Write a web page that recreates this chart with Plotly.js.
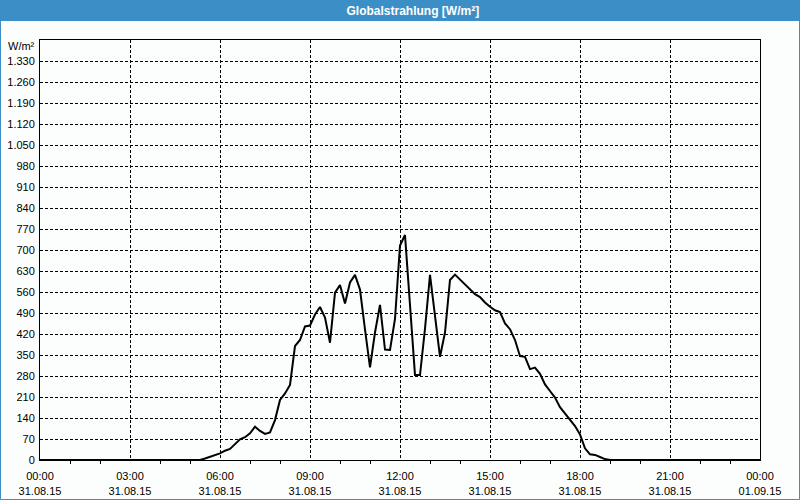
<!DOCTYPE html>
<html>
<head>
<meta charset="utf-8">
<script src="https://cdn.plot.ly/plotly-3.0.1.min.js"></script>
<style>html,body{margin:0;padding:0;background:#fcfefd;}#chart{width:800px;height:500px;}</style>
</head>
<body>
<div id="chart"></div>
<script>
var chartTitle = 'Globalstrahlung [W/m²]';
var unitLabel = 'W/m²';
var times = [
  '2015-08-31 00:00','2015-08-31 05:20',
  '2015-08-31 05:30','2015-08-31 05:40','2015-08-31 05:50',
  '2015-08-31 06:00','2015-08-31 06:10','2015-08-31 06:20','2015-08-31 06:30','2015-08-31 06:40','2015-08-31 06:50',
  '2015-08-31 07:00','2015-08-31 07:10','2015-08-31 07:20','2015-08-31 07:30','2015-08-31 07:40','2015-08-31 07:50',
  '2015-08-31 08:00','2015-08-31 08:10','2015-08-31 08:20','2015-08-31 08:30','2015-08-31 08:40','2015-08-31 08:50',
  '2015-08-31 09:00','2015-08-31 09:10','2015-08-31 09:20','2015-08-31 09:30','2015-08-31 09:40','2015-08-31 09:50',
  '2015-08-31 10:00','2015-08-31 10:10','2015-08-31 10:20','2015-08-31 10:30','2015-08-31 10:40','2015-08-31 10:50',
  '2015-08-31 11:00','2015-08-31 11:10','2015-08-31 11:20','2015-08-31 11:30','2015-08-31 11:40','2015-08-31 11:50',
  '2015-08-31 12:00','2015-08-31 12:10','2015-08-31 12:20','2015-08-31 12:30','2015-08-31 12:40','2015-08-31 12:50',
  '2015-08-31 13:00','2015-08-31 13:10','2015-08-31 13:20','2015-08-31 13:30','2015-08-31 13:40','2015-08-31 13:50',
  '2015-08-31 14:00','2015-08-31 14:10','2015-08-31 14:20','2015-08-31 14:30','2015-08-31 14:40','2015-08-31 14:50',
  '2015-08-31 15:00','2015-08-31 15:10','2015-08-31 15:20','2015-08-31 15:30','2015-08-31 15:40','2015-08-31 15:50',
  '2015-08-31 16:00','2015-08-31 16:10','2015-08-31 16:20','2015-08-31 16:30','2015-08-31 16:40','2015-08-31 16:50',
  '2015-08-31 17:00','2015-08-31 17:10','2015-08-31 17:20','2015-08-31 17:30','2015-08-31 17:40','2015-08-31 17:50',
  '2015-08-31 18:00','2015-08-31 18:10','2015-08-31 18:20','2015-08-31 18:30','2015-08-31 18:40','2015-08-31 18:50',
  '2015-08-31 19:00','2015-09-01 00:00'
];
var radiation = [
  0, 0,
  5, 11, 17,
  22, 31, 37, 53, 69, 76,
  89, 111, 97, 87, 92, 133,
  200, 222, 250, 380, 400, 445,
  448, 485, 510, 475, 391, 558,
  583, 522, 592, 617, 568, 435,
  309, 425, 517, 368, 367, 470,
  715, 750, 530, 283, 283, 438,
  617, 480, 344, 425, 600, 618,
  601, 585, 569, 553, 543, 525,
  511, 499, 493, 455, 436, 400,
  346, 344, 303, 308, 287, 252,
  230, 208, 176, 154, 135, 113,
  85, 39, 19, 17, 10, 3,
  0, 0
];
var yTicks = [0,70,140,210,280,350,420,490,560,630,700,770,840,910,980,1050,1120,1190,1260,1330];
var xRange = ['2015-08-31 00:00','2015-09-01 00:00'];
var yRange = [0, 1400];

var blue = '#3c8fc6';
var W = 800, H = 500, L = 40, R = 40, T = 40, B = 40;
var pw = W - L - R, ph = H - T - B;
function px(x){ return (x - L) / pw; }
function py(y){ return (H - B - y) / ph; }

var trace = {
  x: times, y: radiation, type: 'scatter', mode: 'lines',
  line: {color: '#000000', width: 2}, hoverinfo: 'skip', cliponaxis: true
};

var layout = {
  width: W, height: H,
  margin: {l: L, r: R, t: T, b: B, pad: 0},
  paper_bgcolor: '#fcfefd', plot_bgcolor: '#fcfefd',
  separators: ',.',
  showlegend: false,
  font: {family: 'Liberation Sans, Arial, sans-serif', size: 11, color: '#000'},
  title: {
    text: '<b>' + chartTitle + '</b>',
    font: {family: 'Liberation Sans, Arial, sans-serif', size: 12, color: '#ffffff'},
    x: 0.516, xanchor: 'center', xref: 'container',
    y: 1 - 10.5 / H, yanchor: 'middle', yref: 'container'
  },
  xaxis: {
    type: 'date', range: xRange, dtick: 3 * 3600000,
    tick0: '2015-08-31 00:00',
    tickformat: '%H:%M<br>%d.%m.%y',
    showgrid: true, gridcolor: '#000', gridwidth: 1, griddash: '3px,2px',
    showline: true, linecolor: '#000', linewidth: 1, mirror: true,
    ticks: 'outside', ticklen: 6, tickcolor: 'rgba(0,0,0,0)',
    minor: {dtick: 3600000, ticks: 'outside', ticklen: 3, tickcolor: '#000', showgrid: false},
    zeroline: false, fixedrange: true,
    tickfont: {family: 'Liberation Sans, Arial, sans-serif', size: 11, color: '#000'}
  },
  yaxis: {
    range: yRange, tickvals: yTicks, tickformat: ',d',
    showgrid: true, gridcolor: '#000', gridwidth: 1, griddash: '3px,2px',
    showline: true, linecolor: '#000', linewidth: 1, mirror: true,
    ticks: 'outside', ticklen: 2, tickcolor: 'rgba(0,0,0,0)',
    zeroline: false, fixedrange: true,
    tickfont: {family: 'Liberation Sans, Arial, sans-serif', size: 11, color: '#000'}
  },
  shapes: [
    {type: 'rect', xref: 'paper', yref: 'paper', layer: 'below',
     x0: px(0), x1: px(W), y0: py(21), y1: py(0),
     fillcolor: blue, line: {width: 0}},
    {type: 'rect', xref: 'paper', yref: 'paper', layer: 'above',
     x0: px(0.5), x1: px(W - 0.5), y0: py(H - 0.5), y1: py(0.5),
     fillcolor: 'rgba(0,0,0,0)', line: {color: blue, width: 1}}
  ],
  annotations: [
    {text: unitLabel, xref: 'paper', yref: 'paper', x: px(37), y: py(46),
     xanchor: 'right', yanchor: 'middle', showarrow: false,
     font: {family: 'Liberation Sans, Arial, sans-serif', size: 11, color: '#000'}}
  ]
};

Plotly.newPlot('chart', [trace], layout, {staticPlot: true, displayModeBar: false});
</script>
</body>
</html>
